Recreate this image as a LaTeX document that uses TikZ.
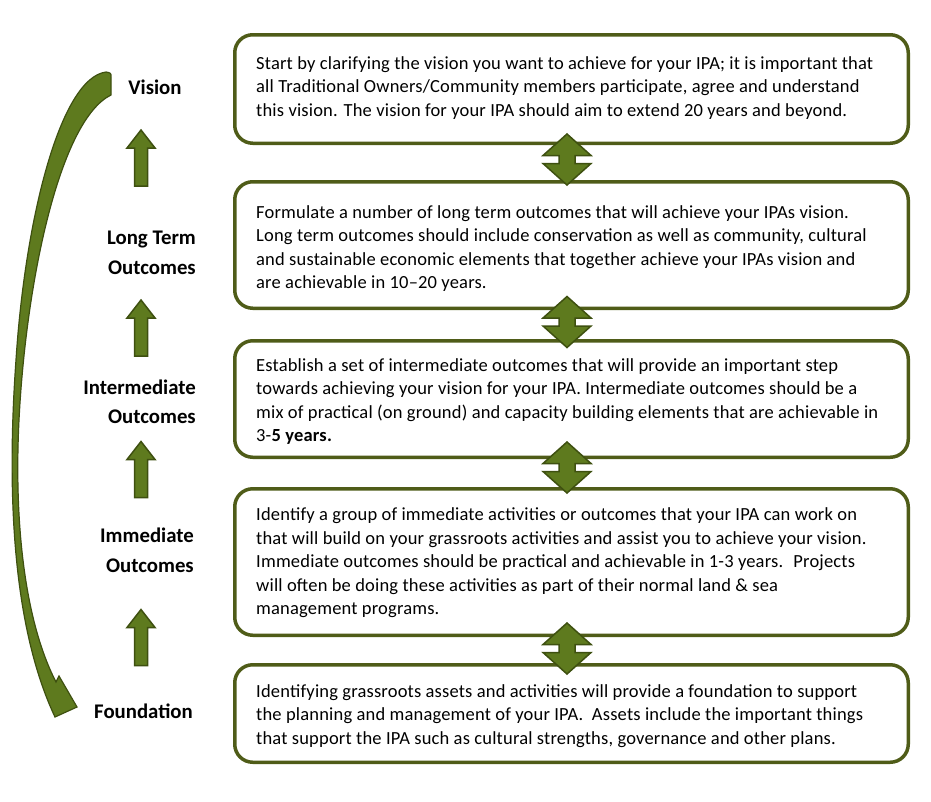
\documentclass[tikz,border=0pt]{standalone}
\usepackage{fontspec}
\setmainfont{Carlito}
\usepackage{xcolor}
\usetikzlibrary{positioning,calc}

\definecolor{olivedark}{RGB}{79,92,24}
\definecolor{olivefill}{RGB}{94,122,30}
\definecolor{oliveedge}{RGB}{62,80,16}

\newcommand{\bodyfont}{\fontsize{18.5}{23.5}\selectfont\addfontfeatures{LetterSpace=1}}
\newcommand{\titlefont}{\fontsize{20.8}{29.5}\selectfont\bfseries}

\tikzset{
	dblarr/.pic={\filldraw[blockarrow] (0,-25.5) -- (24,-4) -- (8,-4) -- (8,4) -- (24,4) -- (0,25.5) -- (-24,4) -- (-8,4) -- (-8,-4) -- (-24,-4) -- cycle;},
	uparr/.pic={\filldraw[blockarrow] (0,-28) -- (14,-10) -- (6.5,-10) -- (6.5,28) -- (-6.5,28) -- (-6.5,-10) -- (-14,-10) -- cycle;}
}

\begin{document}
\begin{tikzpicture}[x=1pt, y=-1pt,
	stage/.style={draw=olivedark, line width=3.5pt, rounded corners=18pt, minimum width=673.5pt, inner sep=0pt, outer sep=0pt},
	stagetext/.style={anchor=west, align=left, font=\bodyfont, inner sep=0pt},
	title/.style={align=right, font=\titlefont, inner sep=0pt},
	blockarrow/.style={fill=olivefill, draw=oliveedge, line width=1.5pt, line join=miter}]
	\useasboundingbox (0,0) rectangle (931,801);

	\node[stage, minimum height=108.5pt] (b1) at (571.5,89)       {};
	\node[stage, minimum height=126.5pt] (b2) [below=38.5pt of b1] {};
	\node[stage, minimum height=116.5pt] (b3) [below=32.5pt of b2] {};
	\node[stage, minimum height=146.5pt] (b4) [below=31.5pt of b3] {};
	\node[stage, minimum height=97.5pt]  (b5) [below=29.5pt of b4] {};

	\node[stagetext] (t1) at ([shift={(21.25,-1)}]b1.west) {Start by clarifying the vision you want to achieve for your IPA; it is important that\\all Traditional Owners/Community members participate, agree and understand\\this vision. The vision for your IPA should aim to extend 20 years and beyond.};
	\node[stagetext] (t2) at ([shift={(21.25,3.5)}]b2.west) {Formulate a number of long term outcomes that will achieve your IPAs vision.\\Long term outcomes should include conservation as well as community, cultural\\and sustainable economic elements that together achieve your IPAs vision and\\are achievable in 10--20 years.};
	\node[stagetext] (t3) at ([shift={(21.25,2.5)}]b3.west) {Establish a set of intermediate outcomes that will provide an important step\\towards achieving your vision for your IPA. Intermediate outcomes should be a\\mix of practical (on ground) and capacity building elements that are achievable in\\3-\textbf{5 years.}};
	\node[stagetext] (t4) at ([shift={(21.25,1)}]b4.west) {Identify a group of immediate activities or outcomes that your IPA can work on\\that will build on your grassroots activities and assist you to achieve your vision.\\Immediate outcomes should be practical and achievable in 1-3 years.~ Projects\\will often be doing these activities as part of their normal land \& sea\\management programs.};
	\node[stagetext] (t5) at ([shift={(21.25,2.5)}]b5.west) {Identifying grassroots assets and activities will provide a foundation to support\\the planning and management of your IPA.~ Assets include the important things\\that support the IPA such as cultural strengths, governance and other plans.};

	\node[title]              (v)  at (155,87)    {Vision};
	\node[title, anchor=east] (lt) at (196,253)   {Long Term\\Outcomes};
	\node[title, anchor=east] (it) at (196,402)   {Intermediate\\Outcomes};
	\node[title, anchor=east] (im) at (194,550.5) {Immediate\\Outcomes};
	\node[title, anchor=east] (f)  at (193,711)   {Foundation};

	% arrows between the titles
	\pic at (141,158)   {uparr};
	\pic at (141,328)   {uparr};
	\pic at (141,469.5) {uparr};
	\pic at (141,637.5) {uparr};

	% arrows between the boxes
	\pic at (567,159.5) {dblarr};
	\pic at (567,322)   {dblarr};
	\pic at (567,467.5) {dblarr};
	\pic at (567,648.5) {dblarr};

	% long curved arrow
	\filldraw[blockarrow, line width=1.2pt] (106,72) .. controls (60,78) and (25,220) .. (16,360)
		.. controls (6,500) and (14,630) .. (55,717)
		-- (77,707) -- (59,676) -- (56,682)
		.. controls (24,620) and (14,520) .. (19,420)
		.. controls (26,280) and (60,120) .. (111,95)
		-- (111,77) .. controls (111,73) .. (106,72) -- cycle;
\end{tikzpicture}
\end{document}
